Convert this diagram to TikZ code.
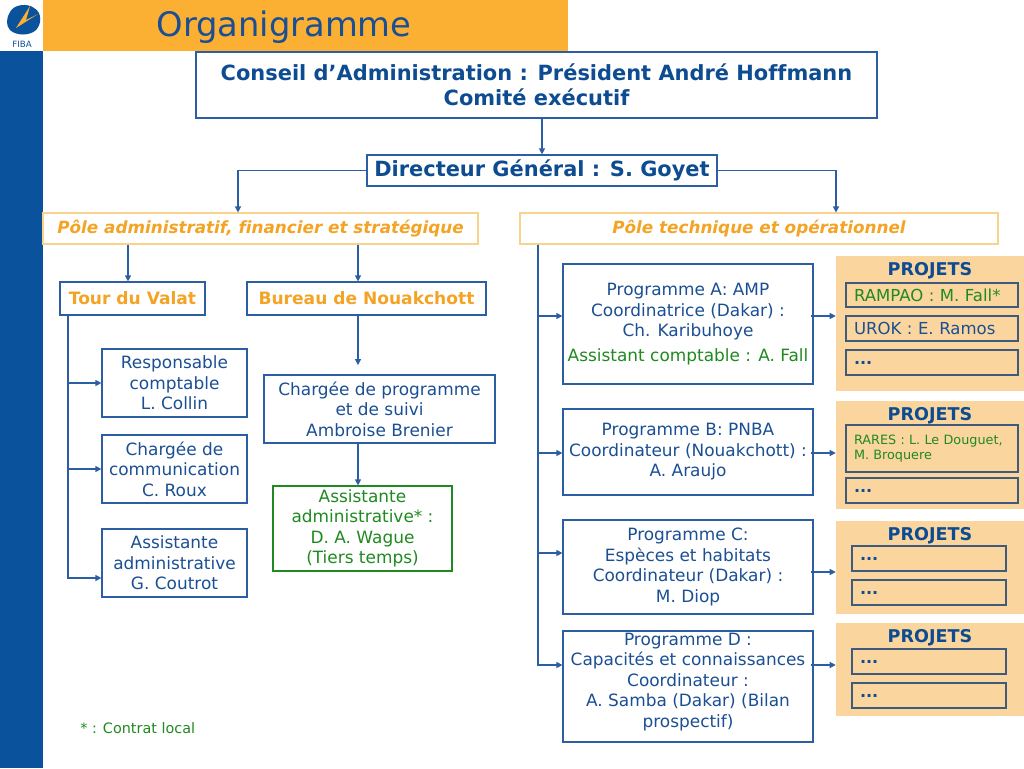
\documentclass[tikz,border=0pt]{standalone}
\usepackage{fontspec}
\setmainfont{DejaVu Sans}[Ligatures=CommonOff]
\usetikzlibrary{arrows.meta,calc}
\definecolor{hdr}{HTML}{FBB034}
\definecolor{barblue}{HTML}{0B529C}
\definecolor{tblue}{HTML}{1B4F94}
\definecolor{dblue}{HTML}{0E4C92}
\definecolor{lblue}{HTML}{2C5EA3}
\definecolor{tgreen}{HTML}{1F8A1F}
\definecolor{torange}{HTML}{F4A425}
\definecolor{lorange}{HTML}{F8D38E}
\definecolor{pfill}{HTML}{FAD59E}
\definecolor{pline}{HTML}{3E5B7E}
\newcommand\bx[7]{%
 \pgfmathsetmacro\mybw{(#4-#2)*0.75}\pgfmathsetmacro\mybh{(#5-#3)*0.75}%
 \node[#6,minimum width=\mybw pt,minimum height=\mybh pt] (#1) at ({(#2+#4)/2},{(#3+#5)/2}) {#7};}
\newcommand\lbx[7]{%
 \pgfmathsetmacro\mybw{(#4-#2)*0.75}\pgfmathsetmacro\mybh{(#5-#3)*0.75}\pgfmathsetmacro\mytw{(#4-#2)*0.75-12}%
 \node[#6,minimum width=\mybw pt,minimum height=\mybh pt,text width=\mytw pt,inner xsep=6pt,align=left] (#1) at ({(#2+#4)/2},{(#3+#5)/2}) {#7};}
\begin{document}
\begin{tikzpicture}[x=0.75pt,y=-0.75pt,
  box/.style={draw=lblue,line width=0.9pt,inner sep=0pt,align=center,text=tblue,font=\fontsize{12.7}{15.4}\selectfont},
  gbox/.style={box,draw=tgreen,text=tgreen},
  obox/.style={draw=lorange,line width=0.8pt,inner sep=0pt,align=center,text=torange,font=\fontsize{12.6}{14}\selectfont\bfseries\itshape},
  tbox/.style={box,text=torange,font=\fontsize{12.8}{14}\selectfont\bfseries},
  bbox/.style={box,text=dblue,font=\fontsize{15.7}{18.75}\selectfont\bfseries},
  panel/.style={fill=pfill,draw=none,inner sep=0pt},
  pbox/.style={draw=pline,line width=0.8pt,fill=pfill,inner sep=0pt,text=tblue,font=\fontsize{12.4}{14}\selectfont},
  dots/.style={pbox,text=dblue,font=\fontsize{12}{14}\selectfont\bfseries},
  ptitle/.style={text=dblue,font=\fontsize{13.2}{15}\selectfont\bfseries,inner sep=0pt},
  arr/.style={draw=lblue,line width=0.9pt,-{Triangle[length=4.5pt,width=4.5pt]}}]
\useasboundingbox (0,0) rectangle (1024,768);
\fill[white] (0,0) rectangle (1024,768);
% header and bar
\fill[hdr] (43,0) rectangle (568,51);
\fill[barblue] (0,51) rectangle (43,768);
\node[text=tblue,font=\fontsize{25.3}{28}\selectfont,inner sep=0pt] (title) at (284,27) {Organigramme};
% logo
\fill[barblue] (10,12) .. controls (14,4) and (28,3) .. (34,8) .. controls (42,12) and (42,24) .. (36,30) .. controls (30,36) and (16,36) .. (10,30) .. controls (6,26) and (6,18) .. (10,12) -- cycle;
\fill[hdr] (16,28) -- (30,6) -- (26,20) -- (38,14) -- cycle;
\node[text=barblue,font=\fontsize{6.5}{7}\selectfont,inner sep=0pt] (logo) at (22,44) {FIBA};
% top
\bx{conseil}{196}{52}{877}{118}{bbox}{Conseil d’Administration : Président André Hoffmann\\Comité exécutif}
\bx{dg}{367}{155}{717}{186}{bbox}{Directeur Général : S. Goyet}
\bx{pa}{43}{213}{478}{244}{obox}{Pôle administratif, financier et stratégique}
\bx{pt}{520}{213}{998}{244}{obox}{Pôle technique et opérationnel}
% left side
\bx{tv}{60}{282}{205}{315}{tbox}{Tour du Valat}
\bx{bn}{247}{282}{486}{315}{tbox}{Bureau de Nouakchott}
\bx{rc}{102}{349}{247}{417}{box}{Responsable\\comptable\\L. Collin}
\bx{cc}{102}{435}{247}{503}{box}{Chargée de\\communication\\C. Roux}
\bx{ag}{102}{529}{247}{597}{box}{Assistante\\administrative\\G. Coutrot}
\bx{cp}{264}{375}{495}{443}{box}{Chargée de programme\\et de suivi\\Ambroise Brenier}
\bx{aw}{273}{486}{452}{571}{gbox}{Assistante\\administrative* :\\D. A. Wague\\(Tiers temps)}
\node[text=tgreen,font=\fontsize{10.8}{12}\selectfont,anchor=west,inner sep=0pt] (note) at (80,728) {* : Contrat local};
% programmes
\bx{pA}{563}{264}{813}{384}{box}{Programme A: AMP\\Coordinatrice (Dakar) :\\Ch. Karibuhoye\\[3pt]\textcolor{tgreen}{Assistant comptable : A. Fall}}
\bx{pB}{563}{409}{813}{495}{box}{Programme B: PNBA\\Coordinateur (Nouakchott) :\\A. Araujo}
\bx{pC}{563}{520}{813}{614}{box}{Programme C:\\Espèces et habitats\\Coordinateur (Dakar) :\\M. Diop}
\bx{pD}{563}{631}{813}{742}{box}{Programme D :\\Capacités et connaissances\\Coordinateur :\\A. Samba (Dakar) (Bilan\\prospectif)\\[-6pt]\mbox{}}
% projets panels
\bx{jA}{836}{256}{1024}{391}{panel}{}
\bx{jB}{836}{401}{1024}{509}{panel}{}
\bx{jC}{836}{521}{1024}{614}{panel}{}
\bx{jD}{836}{623}{1024}{716}{panel}{}
\node[ptitle] (tA) at (930,271) {PROJETS};
\node[ptitle] (tB) at (930,416) {PROJETS};
\node[ptitle] (tC) at (930,536) {PROJETS};
\node[ptitle] (tD) at (930,638) {PROJETS};
\lbx{a1}{846}{283}{1018}{307}{pbox,text=tgreen}{RAMPAO : M. Fall*}
\lbx{a2}{846}{316}{1018}{341}{pbox}{UROK : E. Ramos}
\lbx{a3}{846}{350}{1018}{375}{dots}{...}
\lbx{b1}{846}{425}{1018}{472}{pbox,text=tgreen,font=\fontsize{9.6}{11}\selectfont}{RARES : L. Le Douguet,\\M. Broquere}
\lbx{b2}{846}{478}{1018}{503}{dots}{...}
\lbx{c1}{852}{546}{1006}{571}{dots}{...}
\lbx{c2}{852}{580}{1006}{605}{dots}{...}
\lbx{d1}{852}{649}{1006}{674}{dots}{...}
\lbx{d2}{852}{683}{1006}{708}{dots}{...}
% helper coordinates
\coordinate (xa) at (238,0);
\coordinate (xr) at (836,0);
\coordinate (xv) at (128,0);
\coordinate (xb) at (358,0);
\coordinate (xt) at (68,0);
\coordinate (xp) at (538,0);
\coordinate (y1) at (0,383);
\coordinate (y2) at (0,469);
\coordinate (y3) at (0,578);
\coordinate (yA) at (0,316);
\coordinate (yB) at (0,453);
\coordinate (yC) at (0,553);
\coordinate (yD) at (0,665);
\coordinate (zA) at (0,316);
\coordinate (zB) at (0,453);
\coordinate (zC) at (0,572);
\coordinate (zD) at (0,665);
% connectors
\draw[arr] (dg.north |- conseil.south) -- (dg.north);
\draw[arr] (dg.west) -| (pa.north -| xa);
\draw[arr] (dg.east) -| (pt.north -| xr);
\draw[arr] (pa.south -| xv) -- (tv.north -| xv);
\draw[arr] (pa.south -| xb) -- (bn.north -| xb);
\draw[arr,shorten >=7pt] (bn.south -| xb) -- (cp.north -| xb);
\draw[arr] (cp.south -| xb) -- (aw.north -| xb);
\draw[arr] (tv.south -| xt) |- (rc.west |- y1);
\draw[arr] (tv.south -| xt) |- (cc.west |- y2);
\draw[arr] (tv.south -| xt) |- (ag.west |- y3);
\draw[arr] (pt.south -| xp) |- (pA.west |- yA);
\draw[arr] (pt.south -| xp) |- (pB.west |- yB);
\draw[arr] (pt.south -| xp) |- (pC.west |- yC);
\draw[arr] (pt.south -| xp) |- (pD.west |- yD);
\draw[arr] ([xshift=-2pt]pA.east |- zA) -- (jA.west |- zA);
\draw[arr] ([xshift=-2pt]pB.east |- zB) -- (jB.west |- zB);
\draw[arr] ([xshift=-2pt]pC.east |- zC) -- (jC.west |- zC);
\draw[arr] ([xshift=-2pt]pD.east |- zD) -- (jD.west |- zD);
\end{tikzpicture}
\end{document}
